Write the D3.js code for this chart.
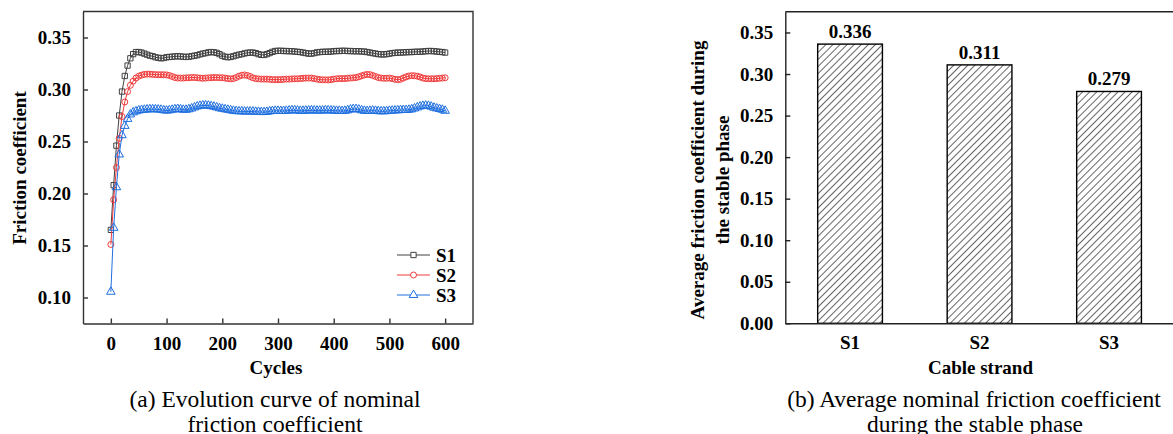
<!DOCTYPE html>
<html>
<head>
<meta charset="utf-8">
<script src="https://cdn.jsdelivr.net/npm/d3@7"></script>
<style>
  body { margin: 0; background: #fff; }
  svg { display: block; font-family: "Liberation Serif", "Times New Roman", serif; }
  svg text, .tick text { font-family: "Liberation Serif", "Times New Roman", serif; }
  .tick text { font-size: 19px; font-weight: bold; fill: #000; }
  .ttl { font-size: 19px; font-weight: bold; fill: #000; }
  .cap { font-size: 23.5px; fill: #000; }
</style>
</head>
<body>
<svg id="fig" width="1173" height="434"></svg>
<script>
// ---- (a) friction coefficient vs cycles, sampled every 5 cycles ----
var cycles = [0,5,10,15,20,25,30,35,40,45,50,55,60,65,70,75,80,85,90,95,
  100,105,110,115,120,125,130,135,140,145,150,155,160,165,170,175,180,185,190,195,
  200,205,210,215,220,225,230,235,240,245,250,255,260,265,270,275,280,285,290,295,
  300,305,310,315,320,325,330,335,340,345,350,355,360,365,370,375,380,385,390,395,
  400,405,410,415,420,425,430,435,440,445,450,455,460,465,470,475,480,485,490,495,
  500,505,510,515,520,525,530,535,540,545,550,555,560,565,570,575,580,585,590,595,600];

var s1 = [0.165,0.208,0.246,0.275,0.298,0.313,0.323,0.330,0.334,0.336,0.336,0.3355,0.3345,0.3335,0.3325,0.332,0.331,0.3305,0.330,0.3303,
  0.331,0.3313,0.3315,0.3318,0.332,0.3318,0.3315,0.3313,0.3315,0.332,0.3325,0.333,0.3338,0.3345,0.335,0.3357,0.336,0.3358,0.3352,0.334,
  0.3325,0.3315,0.331,0.3313,0.332,0.3328,0.3335,0.334,0.3347,0.3353,0.3355,0.3355,0.335,0.334,0.3333,0.3332,0.334,0.335,0.3362,0.337,
  0.3372,0.3372,0.337,0.337,0.3368,0.3368,0.3365,0.3362,0.336,0.3355,0.335,0.3345,0.3345,0.335,0.3357,0.336,0.3362,0.3363,0.3363,0.3365,
  0.3368,0.337,0.337,0.3372,0.3372,0.337,0.337,0.3368,0.3368,0.3368,0.3365,0.3365,0.336,0.3355,0.335,0.3345,0.334,0.3338,0.3337,0.334,
  0.3345,0.335,0.3352,0.3355,0.3355,0.3357,0.3358,0.336,0.336,0.3362,0.3363,0.3363,0.3365,0.3368,0.337,0.337,0.3368,0.3365,0.3362,0.336,0.3355];

var s2 = [0.151,0.194,0.225,0.253,0.274,0.288,0.298,0.304,0.308,0.311,0.3128,0.3138,0.3145,0.3148,0.3148,0.3145,0.3143,0.3142,0.3142,0.3142,
  0.314,0.3135,0.3125,0.3115,0.311,0.311,0.311,0.3112,0.3113,0.3115,0.3115,0.3113,0.311,0.3108,0.311,0.3112,0.3113,0.3115,0.3115,0.3113,
  0.3113,0.311,0.3105,0.3102,0.3105,0.3115,0.3128,0.3137,0.314,0.3135,0.3125,0.3112,0.3105,0.3102,0.31,0.31,0.31,0.3098,0.3095,0.3095,
  0.3095,0.3095,0.3098,0.31,0.31,0.3102,0.3103,0.3103,0.3105,0.3108,0.311,0.311,0.311,0.3105,0.31,0.3095,0.3093,0.3093,0.3092,0.3095,
  0.31,0.3103,0.3105,0.3105,0.3105,0.3108,0.311,0.3112,0.3115,0.3122,0.3132,0.314,0.3145,0.3143,0.3135,0.3125,0.3115,0.311,0.3108,0.3108,
  0.311,0.3105,0.3098,0.3095,0.3098,0.311,0.3122,0.313,0.3133,0.3132,0.3128,0.312,0.311,0.3105,0.3103,0.3103,0.3103,0.3105,0.3108,0.311,0.3113];

var s3 = [0.1055,0.167,0.206,0.2375,0.256,0.265,0.2717,0.276,0.278,0.279,0.2798,0.2803,0.2805,0.2808,0.281,0.281,0.281,0.2808,0.2805,0.28,
  0.2797,0.28,0.2805,0.281,0.2813,0.281,0.2805,0.2805,0.281,0.2818,0.2828,0.2837,0.2843,0.2847,0.2847,0.2845,0.284,0.2835,0.2828,0.282,
  0.2815,0.281,0.2805,0.28,0.2795,0.2792,0.279,0.279,0.2788,0.2788,0.2788,0.2788,0.2786,0.2785,0.2783,0.2783,0.2785,0.279,0.2793,0.2795,
  0.2795,0.2793,0.2793,0.2795,0.2798,0.28,0.28,0.2798,0.2795,0.2795,0.2797,0.2798,0.28,0.2798,0.2797,0.2797,0.2798,0.28,0.28,0.2798,
  0.2797,0.2795,0.2795,0.2793,0.2795,0.28,0.2807,0.2812,0.2812,0.2807,0.28,0.2795,0.2793,0.2795,0.2797,0.2795,0.2792,0.279,0.279,0.2792,
  0.2795,0.2797,0.2798,0.28,0.2802,0.2803,0.2803,0.2805,0.281,0.2818,0.2828,0.2837,0.2843,0.2845,0.2843,0.2835,0.2825,0.2818,0.2812,0.2805,0.2795];

var seriesNames = ["S1", "S2", "S3"];
var seriesColors = ["#404040", "#f03a3a", "#1f6fe0"];
var seriesMarkers = [d3.symbolSquare, d3.symbolCircle, d3.symbolTriangle];
var xTicksA = [0, 100, 200, 300, 400, 500, 600];
var yTicksA = [0.10, 0.15, 0.20, 0.25, 0.30, 0.35];

// ---- (b) average friction coefficient in the stable phase ----
var strands = ["S1", "S2", "S3"];
var avgFriction = [0.336, 0.311, 0.279];
var yTicksB = [0, 0.05, 0.10, 0.15, 0.20, 0.25, 0.30, 0.35];

var SERIF = '"Liberation Serif", "Times New Roman", serif';
var svg = d3.select("#fig");

// hatch pattern for bars
var defs = svg.append("defs");
var pat = defs.append("pattern").attr("id", "hatch").attr("patternUnits", "userSpaceOnUse")
  .attr("width", 5).attr("height", 5).attr("patternTransform", "rotate(45)");
pat.append("rect").attr("width", 5).attr("height", 5).attr("fill", "#fff");
pat.append("line").attr("x1", 0).attr("y1", 0).attr("x2", 0).attr("y2", 5)
  .attr("stroke", "#000").attr("stroke-width", 1.2);

// axis groups: swap d3's default sans font for the serif one
function styleAxis(g, col) {
  g.attr("font-family", SERIF).attr("font-size", 19).attr("font-weight", "bold");
  g.selectAll("text").style("font-family", SERIF);
  g.selectAll("line,path").attr("stroke", col).attr("stroke-width", 1.4);
}

/* ---------------- chart (a) ---------------- */
var xa = d3.scaleLinear().domain([-50, 650]).range([83, 473]);
var ya = d3.scaleLinear().domain([0.075, 0.375]).range([323.5, 11.5]);
var ga = svg.append("g");

ga.append("g").attr("transform", "translate(0," + ya.range()[0] + ")")
  .call(d3.axisBottom(xa).tickValues(xTicksA).tickSizeInner(-5).tickSizeOuter(0).tickPadding(13))
  .call(styleAxis, "#333");
ga.append("g").attr("transform", "translate(" + xa.range()[0] + ",0)")
  .call(d3.axisLeft(ya).tickValues(yTicksA).tickFormat(d3.format(".2f")).tickSizeInner(-5).tickSizeOuter(0).tickPadding(12))
  .call(styleAxis, "#333");
ga.append("path").attr("fill", "none").attr("stroke", "#333").attr("stroke-width", 1.4)
  .attr("d", "M" + xa.range()[0] + "," + ya.range()[1] + "H" + xa.range()[1] + "V" + ya.range()[0]);

var seriesData = [s1, s2, s3];
seriesData.forEach(function (vals, k) {
  var pts = cycles.map(function (c, i) { return [c, vals[i]]; });
  ga.append("path").datum(pts).attr("fill", "none").attr("stroke", seriesColors[k]).attr("stroke-width", 1)
    .attr("d", d3.line().x(function (d) { return xa(d[0]); }).y(function (d) { return ya(d[1]); }));
  var sym = d3.symbol().type(seriesMarkers[k]).size(k === 2 ? 32 : 28);
  ga.append("g").selectAll("path").data(pts).join("path")
    .attr("transform", function (d) { return "translate(" + xa(d[0]) + "," + ya(d[1]) + ")"; })
    .attr("d", sym).attr("fill", "none").attr("stroke", seriesColors[k]).attr("stroke-width", 1);
});

// legend
var lg = ga.append("g");
seriesNames.forEach(function (n, k) {
  var yy = 255 + k * 20;
  lg.append("line").attr("x1", 397).attr("x2", 430).attr("y1", yy).attr("y2", yy)
    .attr("stroke", seriesColors[k]).attr("stroke-width", 1);
  lg.append("path").attr("transform", "translate(413.5," + yy + ")")
    .attr("d", d3.symbol().type(seriesMarkers[k]).size(k === 2 ? 32 : 28))
    .attr("fill", "#fff").attr("stroke", seriesColors[k]).attr("stroke-width", 1);
  lg.append("text").attr("class", "ttl").attr("x", 436).attr("y", yy + 7).text(n);
});

ga.append("text").attr("class", "ttl").attr("text-anchor", "middle")
  .attr("x", 276).attr("y", 374).text("Cycles");
ga.append("text").attr("class", "ttl").attr("text-anchor", "middle")
  .attr("transform", "translate(26,168) rotate(-90)").text("Friction coefficient");
ga.append("text").attr("class", "cap").attr("text-anchor", "middle").attr("x", 275).attr("y", 407)
  .text("(a) Evolution curve of nominal");
ga.append("text").attr("class", "cap").attr("text-anchor", "middle").attr("x", 275).attr("y", 432)
  .text("friction coefficient");

/* ---------------- chart (b) ---------------- */
var xb = d3.scaleBand().domain(strands).range([785.3, 1173.8]).paddingInner(0.5).paddingOuter(0.25);
var yb = d3.scaleLinear().domain([0, 0.375]).range([323.3, 11.7]);
var gb = svg.append("g");

gb.selectAll("rect.bar").data(strands).join("rect").attr("class", "bar")
  .attr("x", function (d) { return xb(d); })
  .attr("y", function (d, i) { return yb(avgFriction[i]); })
  .attr("width", xb.bandwidth())
  .attr("height", function (d, i) { return yb(0) - yb(avgFriction[i]); })
  .attr("fill", "url(#hatch)").attr("stroke", "#000").attr("stroke-width", 1.4);

gb.selectAll("text.val").data(strands).join("text").attr("class", "ttl val")
  .attr("text-anchor", "middle")
  .attr("x", function (d) { return xb(d) + xb.bandwidth() / 2; })
  .attr("y", function (d, i) { return yb(avgFriction[i]) - 6; })
  .text(function (d, i) { return d3.format(".3f")(avgFriction[i]); });

gb.append("g").attr("transform", "translate(0," + yb.range()[0] + ")")
  .call(d3.axisBottom(xb).tickSize(0).tickPadding(12))
  .call(styleAxis, "#222");
gb.append("g").attr("transform", "translate(" + xb.range()[0] + ",0)")
  .call(d3.axisLeft(yb).tickValues(yTicksB).tickFormat(d3.format(".2f")).tickSizeInner(-5).tickSizeOuter(0).tickPadding(12))
  .call(styleAxis, "#222");
gb.append("path").attr("fill", "none").attr("stroke", "#222").attr("stroke-width", 1.4)
  .attr("d", "M" + xb.range()[0] + "," + yb.range()[1] + "H" + xb.range()[1] + "V" + yb.range()[0]);

gb.append("text").attr("class", "ttl").attr("text-anchor", "middle")
  .attr("x", 980.5).attr("y", 374).text("Cable strand");
gb.append("text").attr("class", "ttl").attr("text-anchor", "middle")
  .attr("transform", "translate(704,180) rotate(-90)").text("Average friction coefficient during");
gb.append("text").attr("class", "ttl").attr("text-anchor", "middle")
  .attr("transform", "translate(729,180) rotate(-90)").text("the stable phase");
gb.append("text").attr("class", "cap").attr("text-anchor", "middle").attr("x", 974).attr("y", 407)
  .text("(b) Average nominal friction coefficient");
gb.append("text").attr("class", "cap").attr("text-anchor", "middle").attr("x", 975).attr("y", 432)
  .text("during the stable phase");
</script>
</body>
</html>
